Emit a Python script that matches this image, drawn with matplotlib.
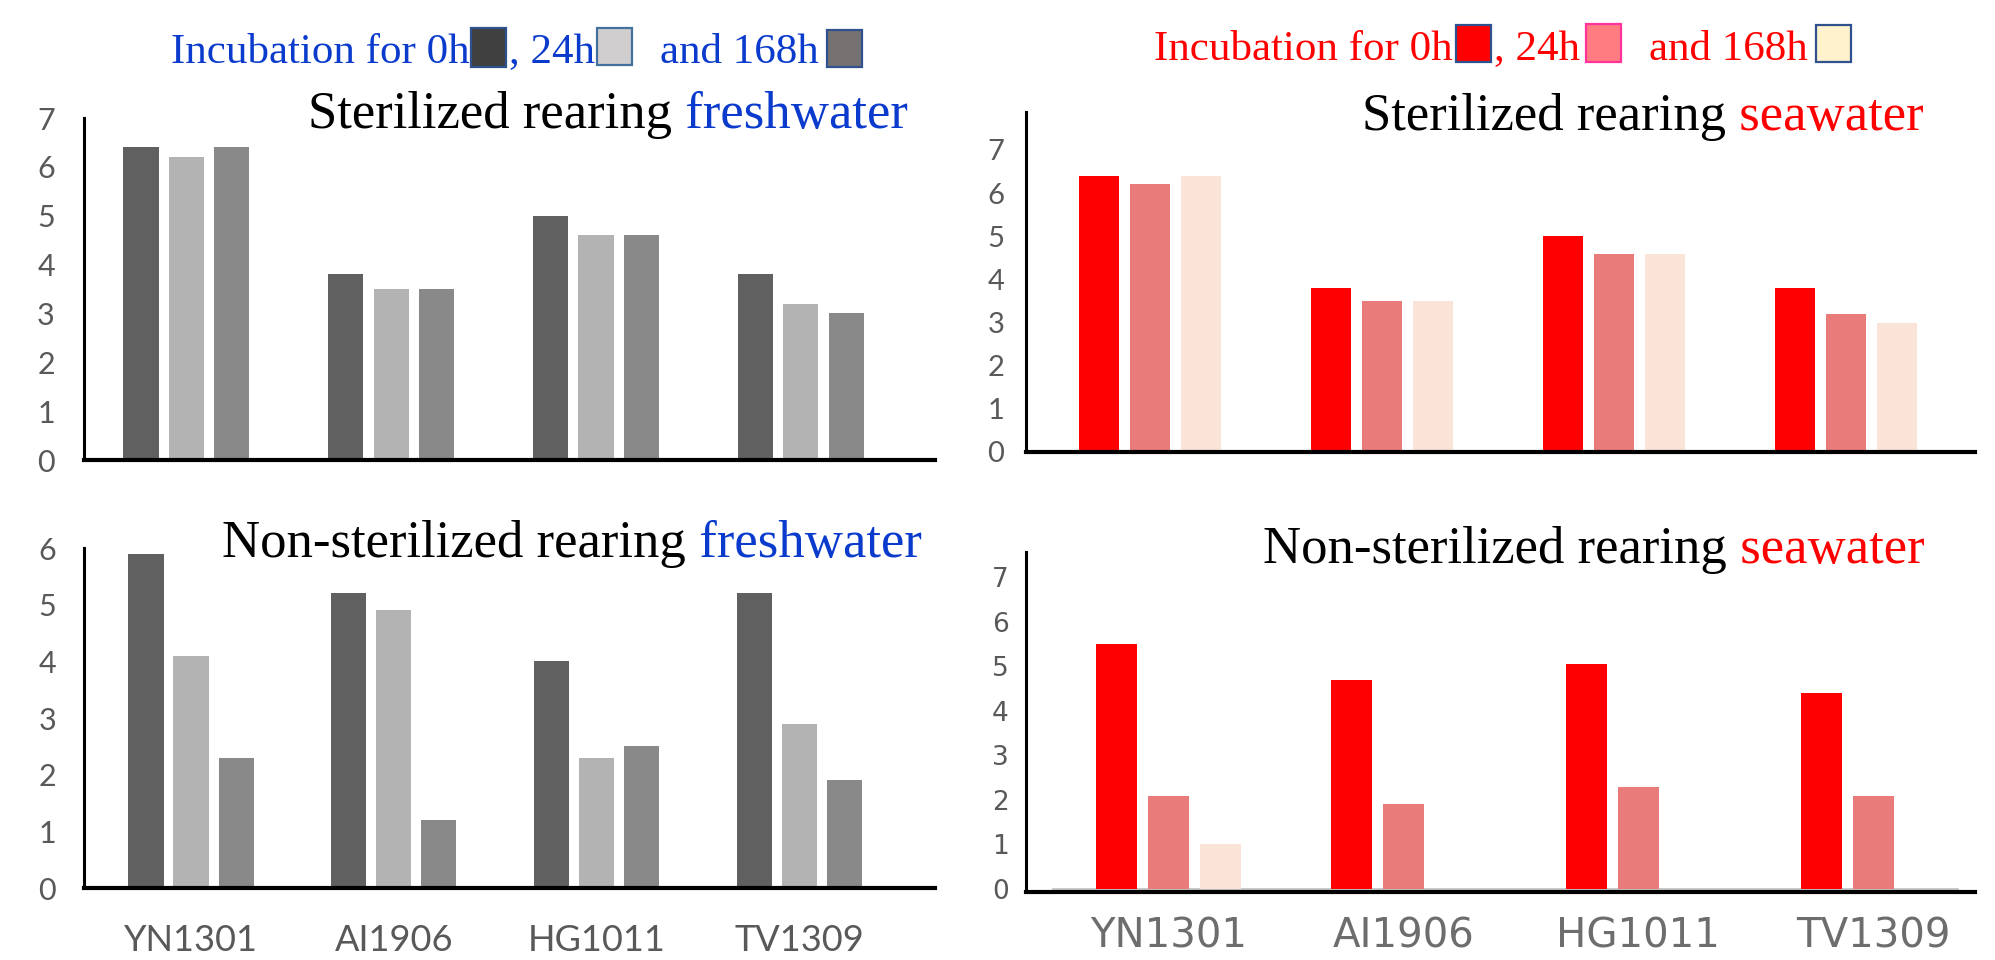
import numpy as np
import matplotlib
matplotlib.use("Agg")
import matplotlib.pyplot as plt
from matplotlib.patches import Rectangle

W, H = 1995, 960

strains = ["YN1301", "AI1906", "HG1011", "TV1309"]

# sterilized rearing (same readings in freshwater and seawater)
ster_fresh_0h = [6.4, 3.8, 5.0, 3.8]
ster_fresh_24h = [6.2, 3.5, 4.6, 3.2]
ster_fresh_168h = [6.4, 3.5, 4.6, 3.0]

ster_sea_0h = [6.4, 3.8, 5.0, 3.8]
ster_sea_24h = [6.2, 3.5, 4.6, 3.2]
ster_sea_168h = [6.4, 3.5, 4.6, 3.0]

# non-sterilized rearing
nonster_fresh_0h = [5.9, 5.2, 4.0, 5.2]
nonster_fresh_24h = [4.1, 4.9, 2.3, 2.9]
nonster_fresh_168h = [2.3, 1.2, 2.5, 1.9]

nonster_sea_0h = [5.5, 4.7, 5.05, 4.4]
nonster_sea_24h = [2.1, 1.9, 2.3, 2.1]
nonster_sea_168h = [1.0, 0, 0, 0]

gray_cols = ["#606060", "#b3b3b3", "#898989"]
red_cols = ["#ff0000", "#e97b7b", "#fae4d8"]
BLUE = "#0b3bcc"
RED = "#ff0000"

fig = plt.figure(figsize=(W / 100, H / 100), dpi=100)


def px_axes(x0, x1, ytop, ybot):
    return fig.add_axes([x0 / W, 1 - ybot / H, (x1 - x0) / W, (ybot - ytop) / H])


def draw_panel(ax, series, colors, width, step, xlim, ylim, ymax_tick,
               tfont, tsize, tpad):
    x = np.arange(len(strains))
    for k in range(3):
        ax.bar(x + (k - 1) * step, series[k], width, color=colors[k], zorder=2)
    ax.set_xlim(xlim)
    ax.set_ylim(ylim)
    for s in ["top", "right"]:
        ax.spines[s].set_visible(False)
    ax.spines["left"].set_linewidth(2.2)
    ax.spines["bottom"].set_linewidth(3)
    ax.spines["left"].set_color("black")
    ax.spines["bottom"].set_color("black")
    ax.set_yticks(range(ymax_tick + 1))
    ax.tick_params(axis="y", length=0, pad=tpad, labelsize=tsize, labelcolor="#595959")
    for lab in ax.get_yticklabels():
        lab.set_family(tfont)
    ax.tick_params(axis="x", length=0)
    ax.set_xticks([])
    return x


# top-left: sterilized freshwater
ax1 = px_axes(84, 935, 118, 460)
draw_panel(ax1, [ster_fresh_0h, ster_fresh_24h, ster_fresh_168h], gray_cols,
           0.171, 0.22, (-0.498, 3.654), (0, 7), 7, "Lato", 22, 21)

# top-right: sterilized seawater
ax2 = px_axes(1026, 1975, 112, 452)
draw_panel(ax2, [ster_sea_0h, ster_sea_24h, ster_sea_168h], red_cols,
           0.172, 0.22, (-0.534, 3.556), (0, 7.88), 7, "Lato", 21, 15.5)

# bottom-left: non-sterilized freshwater
ax3 = px_axes(84, 935, 548, 888)
x3 = draw_panel(ax3, [nonster_fresh_0h, nonster_fresh_24h, nonster_fresh_168h], gray_cols,
                0.173, 0.222, (-0.528, 3.67), (0, 6), 6, "Lato", 22, 20)
ax3.set_xticks(x3)
ax3.set_xticklabels(strains, family="Lato", fontsize=26, color="#595959")
ax3.tick_params(axis="x", pad=26)

# bottom-right: non-sterilized seawater
ax4 = px_axes(1026, 1975, 552, 889)
x4 = draw_panel(ax4, [nonster_sea_0h, nonster_sea_24h, nonster_sea_168h], red_cols,
                0.175, 0.2215, (-0.609, 3.434), (0, 7.57), 7, "DejaVu Sans", 19, 12.5)
ax4.spines["bottom"].set_position(("outward", 2))
ax4.plot([0.028, 0.982], [0, 0], color="#c0c0c0", lw=1.2, transform=ax4.transAxes,
         clip_on=False, zorder=1)
ax4.set_xticks(x4)
ax4.set_xticklabels(strains, family="DejaVu Sans", fontsize=29, color="#6d6d6d")
ax4.tick_params(axis="x", pad=18)

renderer = fig.canvas.get_renderer()


def two_color_title(x, y, first, second, color2):
    t = fig.text(x / W, 1 - y / H, first, family="Liberation Serif", fontsize=38,
                 color="black", va="baseline", ha="left")
    bb = t.get_window_extent(renderer)
    fig.text(bb.x1 / W, 1 - y / H, " " + second, family="Liberation Serif", fontsize=38,
             color=color2, va="baseline", ha="left")


two_color_title(308, 128, "Sterilized rearing", "freshwater", BLUE)
two_color_title(1362, 130, "Sterilized rearing", "seawater", RED)
two_color_title(222, 557, "Non-sterilized rearing", "freshwater", BLUE)
two_color_title(1263, 563, "Non-sterilized rearing", "seawater", RED)


def legend_row(x, ybase, pieces, color):
    cur = x
    for p in pieces:
        if p[0] == "text":
            t = fig.text((cur + p[2]) / W, 1 - ybase / H, p[1], family="Liberation Serif",
                         fontsize=31, color=color, va="baseline", ha="left")
            cur = t.get_window_extent(renderer).x1
        else:
            _, face, edge, gap, ytop, ybot = p
            left = cur + gap
            fig.add_artist(Rectangle((left / W, 1 - ybot / H), 35 / W, (ybot - ytop) / H,
                                     transform=fig.transFigure, facecolor=face,
                                     edgecolor=edge, lw=1.6))
            cur = left + 36


legend_row(171, 63, [("text", "Incubation for 0h", 0),
                     ("box", "#404040", "#2f528f", 1, 28, 67),
                     ("text", ", 24h", 2),
                     ("box", "#d0cece", "#41719c", 2, 28, 65),
                     ("text", "and 168h", 27),
                     ("box", "#767171", "#2f528f", 8, 30, 67)], BLUE)

legend_row(1154, 60, [("text", "Incubation for 0h", 0),
                      ("box", "#ff0000", "#2f528f", 3, 25, 62),
                      ("text", ", 24h", 2),
                      ("box", "#ff7c80", "#ff3399", 6, 24, 62),
                      ("text", "and 168h", 27),
                      ("box", "#fff2cc", "#2f528f", 8, 25, 62)], RED)

fig.savefig("out.png", dpi=100)
